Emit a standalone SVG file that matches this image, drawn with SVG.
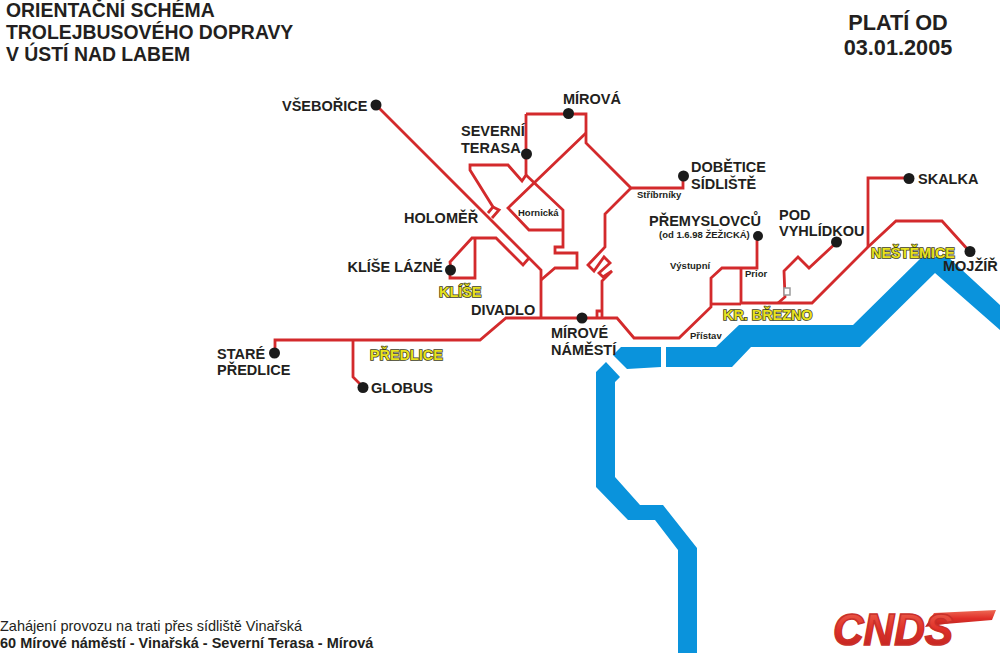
<svg xmlns="http://www.w3.org/2000/svg" width="1000" height="653" viewBox="0 0 1000 653">
<style>
text{font-family:"Liberation Sans",Arial,sans-serif;font-weight:700;fill:#231f20}
.t{font-size:19.4px}
.h{font-size:21.7px}
.n{font-size:14.5px}
.s{font-size:9.5px}
.a{font-size:14.4px;fill:#e8e220;stroke:#3c3c20;stroke-width:1.5px;paint-order:stroke}
.f{font-size:14.5px}
.r{fill:none;stroke:#d32a2c;stroke-width:2.8;stroke-linejoin:miter}
.d{fill:#1b1b1b}
.w{fill:#0a93dc}
</style>
<defs>
<linearGradient id="lg" x1="0" y1="0" x2="0" y2="1"><stop offset="0" stop-color="#ee6a55"/><stop offset=".5" stop-color="#e02f28"/><stop offset="1" stop-color="#b8231f"/></linearGradient>
</defs>
<rect width="1000" height="653" fill="#fff"/>
<g id="river">
<path class="w" d="M613 355L621 347H661V367L627 369Z"/>
<path class="w" d="M666 347H716L739 325H853L922 257H948L1000 305V330L935 273L860 347H751L732 367H666Z"/>
<path class="w" d="M596 372L606 362L620 377L615 382V477L640 505H663L697 548V653H678V550L655 520H628L596 487Z"/>
</g>
<g id="connectors">
<path class="r" d="M376 105L541 270V318"/>
<path class="r" d="M526 114H586V143L631 188H683V176"/>
<path class="r" d="M526 114V175L522 181L508 165H470V170L493 207L488 213"/>
<path class="r" d="M493 207L499 210L492 218"/>
<path class="r" d="M526 175L563 210V247H555V253H577V268H555L541 280"/>
<path class="r" d="M586 133L508 208L529 230H563"/>
<path class="r" d="M631 188L605 214V247L588 265L594 271L604 257L610 263L599 273L603 277L612 271L602 281V318"/>
<path class="r" d="M597 318V311H602"/>
<path class="r" d="M275 353V340H480L506 318H617L634 338H679L711 307V278L722 268H757V236"/>
<path class="r" d="M741 268V303"/>
<path class="r" d="M711 304H741"/>
<path class="r" d="M741 303H812L868 247L896 221H942L970 252"/>
<path class="r" d="M868 247V178H909"/>
<path class="r" d="M778 303L785 297L784 271L798 257L809 268L837 242"/>
<path class="r" d="M451 270L450 262L472 238H496L523 265L529 258"/>
<path class="r" d="M475 238V278H450V270"/>
<path class="r" d="M353 340V377L363 387"/>
<rect x="784" y="288" width="6" height="7" fill="#fff" stroke="#9a9a9a" stroke-width="1.5"/>
</g>
<g id="title">
<text class="t" x="6" y="17">ORIENTAČNÍ SCHÉMA</text>
<text class="t" x="6" y="39">TROLEJBUSOVÉHO DOPRAVY</text>
<text class="t" x="6" y="61">V ÚSTÍ NAD LABEM</text>
</g>
<g id="validity">
<text class="h" x="898" y="30" text-anchor="middle">PLATÍ OD</text>
<text class="h" x="898" y="55" text-anchor="middle">03.01.2005</text>
</g>
<g id="n-vseborice"><circle class="d" cx="376" cy="105" r="5.5"/><text class="n" x="282" y="111">VŠEBOŘICE</text></g>
<g id="n-mirova"><circle class="d" cx="568.500" cy="113.500" r="5.500"/><text class="n" x="563" y="104">MÍROVÁ</text></g>
<g id="n-severni"><circle class="d" cx="526.500" cy="154" r="5.500"/><text class="n" x="461" y="136">SEVERNÍ</text><text class="n" x="461" y="153">TERASA</text></g>
<g id="n-dobetice"><circle class="d" cx="683.500" cy="176" r="5.500"/><text class="n" x="691" y="172">DOBĚTICE</text><text class="n" x="691" y="189">SÍDLIŠTĚ</text></g>
<g id="n-holomer"><text class="n" x="404" y="223">HOLOMĚŘ</text></g>
<g id="n-klise"><circle class="d" cx="450.500" cy="270" r="5.500"/><text class="n" x="347.500" y="272">KLÍŠE LÁZNĚ</text></g>
<g id="n-divadlo"><text class="n" x="471" y="315">DIVADLO</text></g>
<g id="n-mirove"><circle class="d" cx="582" cy="318" r="5.500"/><text class="n" x="551" y="338">MÍROVÉ</text><text class="n" x="551" y="355">NÁMĚSTÍ</text></g>
<g id="n-stare"><circle class="d" cx="274.500" cy="353" r="5.500"/><text class="n" x="217" y="359">STARÉ</text><text class="n" x="217" y="375">PŘEDLICE</text></g>
<g id="n-globus"><circle class="d" cx="363" cy="387.500" r="5.500"/><text class="n" x="371" y="393">GLOBUS</text></g>
<g id="n-premyslovcu"><circle class="d" cx="758" cy="236" r="5"/><text class="n" x="649" y="226">PŘEMYSLOVCŮ</text><text class="s" x="659" y="238">(od 1.6.98 ŽEŽICKÁ)</text></g>
<g id="n-vyhlidkou"><circle class="d" cx="836.500" cy="242" r="5.500"/><text class="n" x="779" y="220">POD</text><text class="n" x="779" y="236">VYHLÍDKOU</text></g>
<g id="n-skalka"><circle class="d" cx="909" cy="178.500" r="5.500"/><text class="n" x="918" y="184">SKALKA</text></g>
<g id="n-mojzir"><circle class="d" cx="970" cy="251.500" r="5.500"/><text class="n" x="943" y="271">MOJŽÍŘ</text></g>
<g id="stops">
<text class="s" x="637" y="198">Stříbrníky</text>
<text class="s" x="518" y="216">Hornická</text>
<text class="s" x="670" y="269">Výstupní</text>
<text class="s" x="745" y="277">Prior</text>
<text class="s" x="690" y="339">Přístav</text>
</g>
<g id="areas">
<text class="a" x="439" y="297">KLÍŠE</text>
<text class="a" x="370" y="360">PŘEDLICE</text>
<text class="a" x="723" y="320">KR. BŘEZNO</text>
<text class="a" x="871" y="258">NEŠTĚMICE</text>
</g>
<g id="note">
<text class="f" x="0" y="631" style="font-weight:400">Zahájení provozu na trati přes sídliště Vinařská</text>
<text class="f" x="0" y="648">60 Mírové náměstí - Vinařská - Severní Terasa - Mírová</text>
</g>
<g id="logo">
<path d="M925 627L934 613L996 610L992 620L945 624Z" fill="url(#lg)"/>
<text x="833" y="645" style="font-size:44px;font-style:italic;font-weight:700;fill:url(#lg);stroke:#c9302a;stroke-width:1.6px" textLength="120" lengthAdjust="spacingAndGlyphs">CNDS</text>
</g>
</svg>
